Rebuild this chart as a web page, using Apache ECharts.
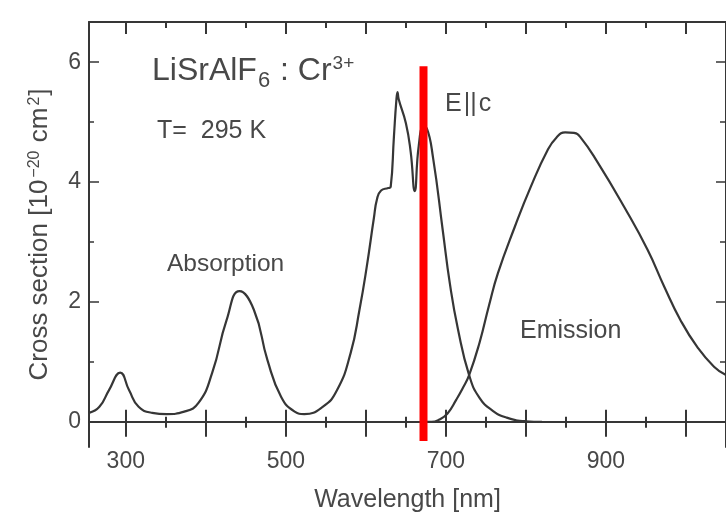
<!DOCTYPE html>
<html>
<head>
<meta charset="utf-8">
<script src="https://cdn.jsdelivr.net/npm/echarts@6/dist/echarts.min.js"></script>
<style>
  html, body { margin: 0; padding: 0; background: #ffffff; }
  #chart { width: 726px; height: 519px; }
</style>
</head>
<body>
<div id="chart"></div>
<script>
// LiSrAlF6:Cr3+ polarized (E||c) absorption and emission cross sections at 295 K

// Absorption cross section, [wavelength nm, 10^-20 cm^2]
const absorptionWavelength = [254, 267, 279, 293, 304, 316, 333, 351, 373, 391, 408, 426, 442, 460, 477, 494, 511, 523, 546, 564, 581, 592, 601, 610, 614, 619, 628, 631, 635, 638, 639.5, 641, 650, 656, 661, 666, 672, 676, 684, 696, 705, 715, 729, 742, 759, 776, 800, 820];
const absorptionValue      = [0.15, 0.25, 0.53, 0.82, 0.53, 0.25, 0.15, 0.13, 0.17, 0.32, 0.82, 1.7, 2.18, 1.87, 1.03, 0.42, 0.17, 0.13, 0.25, 0.53, 1.15, 1.87, 2.58, 3.4, 3.72, 3.86, 3.9, 3.92, 4.75, 5.35, 5.5, 5.38, 4.98, 4.5, 3.85, 4.6, 4.92, 4.9, 4.4, 3.2, 2.3, 1.55, 0.78, 0.4, 0.18, 0.07, 0.01, 0.0];

// Emission cross section
const emissionWavelength = [670, 682, 692, 702, 713, 721, 729, 742, 754, 765, 786, 806, 827, 838, 849, 860, 868, 890, 923, 952, 973, 993, 1014, 1035, 1050];
const emissionValue      = [0.0, 0.0, 0.04, 0.14, 0.37, 0.56, 0.78, 1.32, 1.95, 2.48, 3.25, 3.92, 4.53, 4.74, 4.83, 4.82, 4.75, 4.32, 3.58, 2.87, 2.25, 1.7, 1.25, 0.92, 0.78];

// Red marker line at the laser wavelength
const markerWavelength = [672, 672];
const markerValue = [-0.32, 5.93];

// Axis ranges and ticks
const xRange = [254, 1050];
const yRange = [-0.42, 6.67];
const xMajorTicks = [300, 400, 500, 600, 700, 800, 900, 1000];
const xMinorTicks = [350, 450, 550, 650, 750, 850, 950, 1050];
const xTickLabels = [300, 500, 700, 900];
const yMajorTicks = [0, 2, 4, 6];
const yMinorTicks = [1, 3, 5];
const yTickLabels = [0, 2, 4, 6];

const FONT = "'Liberation Sans', Arial, sans-serif";
const INK = '#363636';
const TEXT = '#484848';

function zip(xs, ys) { return xs.map((x, i) => [x, ys[i]]); }

const chart = echarts.init(document.getElementById('chart'), null, { renderer: 'canvas' });

function xAxisDef(opts) {
  return Object.assign({
    type: 'value', min: xRange[0], max: xRange[1], position: 'bottom',
    axisLine: { show: false, onZero: true, onZeroAxisIndex: 0, lineStyle: { color: INK, width: 2 } },
    axisTick: { show: true, lineStyle: { color: INK, width: 2 } },
    axisLabel: { show: false },
    splitLine: { show: false }
  }, opts);
}
function yAxisDef(opts) {
  return Object.assign({
    type: 'value', min: yRange[0], max: yRange[1], position: 'left',
    axisLine: { show: false, onZero: false, lineStyle: { color: INK, width: 2 } },
    axisTick: { show: true, lineStyle: { color: INK, width: 1.5 } },
    axisLabel: { show: false },
    splitLine: { show: false }
  }, opts);
}

const option = {
  backgroundColor: '#ffffff',
  animation: false,
  grid: { left: 89, top: 22, right: -3, bottom: 72, containLabel: false },
  xAxis: [
    xAxisDef({
      axisLine: { show: true, onZero: true, onZeroAxisIndex: 0, lineStyle: { color: INK, width: 2 } },
      axisTick: { show: true, inside: false, length: 15, customValues: xMajorTicks, lineStyle: { color: INK, width: 2 } },
      axisLabel: { show: true, customValues: xTickLabels, fontSize: 23, color: TEXT, fontFamily: FONT, margin: 3 },
      name: 'Wavelength [nm]', nameLocation: 'middle', nameGap: 41,
      nameTextStyle: { fontSize: 25, color: TEXT, fontFamily: FONT }
    }),
    xAxisDef({ axisTick: { show: true, inside: true, length: 12, customValues: xMajorTicks, lineStyle: { color: INK, width: 2 } } }),
    xAxisDef({ axisTick: { show: true, inside: false, length: 6, customValues: xMinorTicks, lineStyle: { color: INK, width: 2 } } }),
    xAxisDef({ axisTick: { show: true, inside: true, length: 5, customValues: xMinorTicks, lineStyle: { color: INK, width: 2 } } }),
    xAxisDef({
      position: 'top',
      axisLine: { show: true, onZero: false, lineStyle: { color: INK, width: 2 } },
      axisTick: { show: true, inside: true, length: 12, customValues: xMajorTicks, lineStyle: { color: INK, width: 2 } }
    }),
    xAxisDef({
      position: 'top',
      axisLine: { show: false, onZero: false },
      axisTick: { show: true, inside: true, length: 6, customValues: xMinorTicks, lineStyle: { color: INK, width: 2 } }
    })
  ],
  yAxis: [
    yAxisDef({
      axisLine: { show: true, onZero: false, lineStyle: { color: INK, width: 2 } },
      axisTick: { show: true, inside: true, length: 10, customValues: yMajorTicks, lineStyle: { color: INK, width: 1.5 } },
      axisLabel: { show: true, customValues: yTickLabels, fontSize: 23, color: TEXT, fontFamily: FONT, margin: 8 },
      name: 'Cross section [10{s|−20} cm{s|2}]',
      nameLocation: 'middle', nameGap: 36, nameRotate: 90,
      nameTextStyle: {
        fontSize: 26, color: TEXT, fontFamily: FONT,
        rich: { s: { fontSize: 16, color: TEXT, fontFamily: FONT, verticalAlign: 'top', padding: [0, 1, 0, 2] } }
      }
    }),
    yAxisDef({ axisTick: { show: true, inside: true, length: 5, customValues: yMinorTicks, lineStyle: { color: INK, width: 1.5 } } }),
    yAxisDef({
      position: 'right',
      axisLine: { show: true, onZero: false, lineStyle: { color: INK, width: 2 } },
      axisTick: { show: true, inside: true, length: 10, customValues: yMajorTicks, lineStyle: { color: INK, width: 1.5 } }
    }),
    yAxisDef({
      position: 'right',
      axisTick: { show: true, inside: true, length: 6, customValues: yMinorTicks, lineStyle: { color: INK, width: 1.5 } }
    })
  ],
  series: [
    {
      name: 'Absorption', type: 'line', xAxisIndex: 0, yAxisIndex: 0,
      data: zip(absorptionWavelength, absorptionValue),
      showSymbol: false, smooth: 0.5,
      lineStyle: { color: INK, width: 2.2 }, z: 3
    },
    {
      name: 'Emission', type: 'line', xAxisIndex: 0, yAxisIndex: 0,
      data: zip(emissionWavelength, emissionValue),
      showSymbol: false, smooth: 0.5,
      lineStyle: { color: INK, width: 2.2 }, z: 3
    },
    {
      name: 'Marker', type: 'line', xAxisIndex: 0, yAxisIndex: 0,
      data: zip(markerWavelength, markerValue),
      showSymbol: false, clip: false,
      lineStyle: { color: '#ff0000', width: 8, cap: 'butt' }, z: 5
    }
  ],
  graphic: [
    {
      type: 'text', left: 152, top: 51, z: 10,
      style: {
        text: '{m|LiSrAlF}{sub|6}{m| : Cr}{sup|3+}',
        fill: TEXT, font: '32px ' + FONT,
        rich: {
          m: { fontSize: 32, fontFamily: FONT, color: TEXT, lineHeight: 34, verticalAlign: 'top', padding: [4, 0, 0, 0] },
          sub: { fontSize: 22, fontFamily: FONT, color: TEXT, lineHeight: 22, verticalAlign: 'top', padding: [19, 1, 0, 1] },
          sup: { fontSize: 19, fontFamily: FONT, color: TEXT, lineHeight: 19, verticalAlign: 'top', padding: [3, 0, 0, 1] }
        }
      }
    },
    { type: 'text', left: 157, top: 119, z: 10, style: { text: 'T=  295 K', fill: TEXT, font: '25px ' + FONT } },
    { type: 'text', left: 167, top: 252, z: 10, style: { text: 'Absorption', fill: TEXT, font: '24.5px ' + FONT } },
    { type: 'text', left: 445, top: 92, z: 10, style: { text: 'E\u200A||\u200Ac', fill: TEXT, font: '25px ' + FONT } },
    { type: 'text', left: 520, top: 319, z: 10, style: { text: 'Emission', fill: TEXT, font: '25px ' + FONT } }
  ]
};

chart.setOption(option);
</script>
</body>
</html>
